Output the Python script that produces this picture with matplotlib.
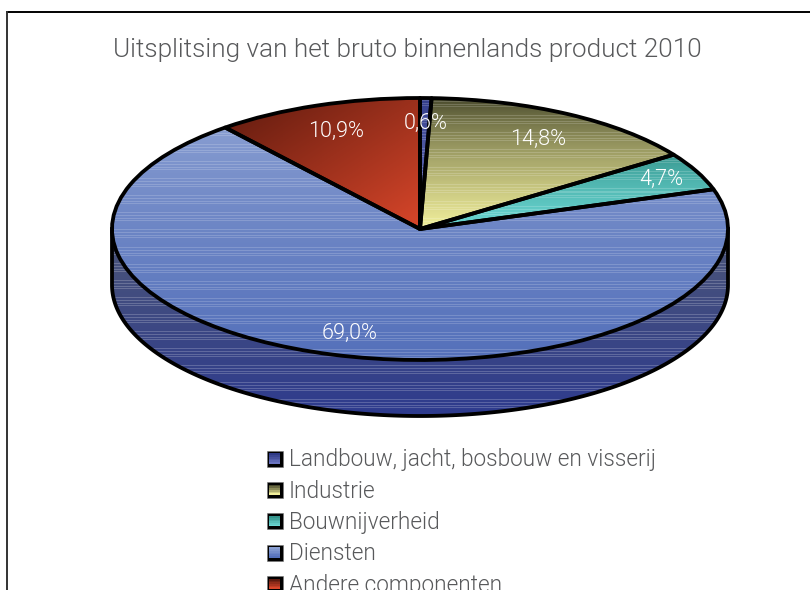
import numpy as np
import matplotlib
matplotlib.use('Agg')
import matplotlib.pyplot as plt
from matplotlib.colors import to_rgb
from matplotlib.legend_handler import HandlerBase
from matplotlib.patches import Patch, Polygon, Rectangle

title = 'Uitsplitsing van het bruto binnenlands product 2010'
categories = ['Landbouw, jacht, bosbouw en visserij', 'Industrie', 'Bouwnijverheid',
              'Diensten', 'Andere componenten']
values = [0.6, 14.8, 4.7, 69.0, 10.9]

# gradient colours per slice, top to bottom
top_colors = ['#2f3a86', '#45462a', '#35948c', '#8a9fd2', '#5e1a0e']
bottom_colors = ['#6a74c0', '#f2f09c', '#6cd8d4', '#5470ba', '#d8462a']
# label centres in pixels
label_px = [(426, 123), (538, 139), (661, 179), (350, 333), (336, 131)]

# pie geometry in pixels
W, H = 810, 590
cx, cy, rx, ry = 420, 229, 308, 131
depth = 56 / ry
line = 3.8 * 72 / 100
grey = '#58595b'

plt.rcParams['font.family'] = ['Roboto', 'DejaVu Sans']
plt.rcParams['font.weight'] = 300


def stripes(n, top, bottom, strength=0.17, gamma=0.75):
    # vertical gradient with thin light lines like the banded original
    t = (np.linspace(0, 1, n) ** gamma)[:, None]
    img = (1 - t) * np.array(to_rgb(top)) + t * np.array(to_rgb(bottom))
    light = np.array([(r * r * r + 5 * r) % 17 in (0, 8) for r in range(n)])
    img[light] = img[light] + (1 - img[light]) * strength
    return img[:, None, :]


def diagonal(top, bottom, n=200):
    yy, xx = np.mgrid[0:1:n * 1j, 0:1:n * 1j]
    t = ((xx + yy) / 2)[..., None]
    return (1 - t) * np.array(to_rgb(top)) + t * np.array(to_rgb(bottom))


def gradient_fill(ax, patch, img):
    box = patch.get_path().transformed(patch.get_patch_transform()).get_extents()
    im = ax.imshow(img, extent=(box.x0, box.x1, box.y0, box.y1), aspect='auto',
                   origin='upper', interpolation='nearest', zorder=0.5)
    im.set_clip_path(patch)
    return im


class GradientSquare(HandlerBase):
    def create_artists(self, legend, orig, xd, yd, width, height, fontsize, trans):
        size = 7.5
        x0 = (width - size) / 2 - xd
        y0 = (height - size) / 2 - yd
        out = [Rectangle((x0 - 2, y0 - 2), size + 4, size + 4, fc='black', ec='#777777',
                         lw=0.4, transform=trans)]
        n = 6
        for k in range(n):
            t = k / (n - 1)
            col = (1 - t) * np.array(to_rgb(orig.top)) + t * np.array(to_rgb(orig.bottom))
            out.append(Rectangle((x0, y0 + size - (k + 1) * size / n), size, size / n,
                                 fc=col, ec='none', transform=trans))
        return out


fig = plt.figure(figsize=(W / 100, H / 100), dpi=100)
ax = fig.add_axes([0, 0, 1, 1])

wedges, texts, autotexts = ax.pie(
    values, startangle=90, counterclock=False, radius=1, colors=['none'] * 5,
    autopct=lambda p: f'{p:.1f}%'.replace('.', ','),
    wedgeprops=dict(edgecolor='black', linewidth=line, joinstyle='round'),
    textprops=dict(color='white', fontsize=15.6))
ax.set_aspect('auto')
ax.set_xlim(-cx / rx, (W - cx) / rx)
ax.set_ylim((cy - H) / ry, cy / ry)
ax.set_axis_off()

for w, top, bottom, name in zip(wedges, top_colors, bottom_colors, categories):
    w.set_zorder(2)
    box = w.get_path().transformed(w.get_patch_transform()).get_extents()
    n = int(box.height * ry)
    if name == 'Andere componenten':
        gradient_fill(ax, w, diagonal(top, bottom))
    else:
        gradient_fill(ax, w, stripes(max(n, 2), top, bottom))

for t, (px, py), in zip(autotexts, label_px):
    t.set_position(((px - cx) / rx, (cy - py) / ry))
    t.set_zorder(3)

# side of the disc, behind the top face
theta = np.linspace(np.pi, 2 * np.pi, 200)
side_xy = np.column_stack([np.cos(theta), np.sin(theta) - depth])
side_xy = np.vstack([[-1, 0], side_xy, [1, 0]])
side = Polygon(side_xy, closed=True, fc='none', ec='black', lw=line, zorder=0.4)
ax.add_patch(side)
side_box = side.get_path().get_extents()
side_im = ax.imshow(stripes(187, '#4c5678', '#2e3b8e', 0.2, 1.0),
                    extent=(-1, 1, side_box.y0, side_box.y1), aspect='auto',
                    interpolation='nearest', zorder=0.3)
side_im.set_clip_path(side)
ax.set_xlim(-cx / rx, (W - cx) / rx)
ax.set_ylim((cy - H) / ry, cy / ry)

ax.text((407.5 - cx) / rx, (cy - 50) / ry, title, ha='center', va='center',
        fontsize=18.85, color=grey)

handles = []
for name, top, bottom in zip(categories, top_colors, bottom_colors):
    h = Patch(label=name)
    h.top, h.bottom = top, bottom
    handles.append(h)
fig.legend(handles=handles, loc='upper left', bbox_to_anchor=(243 / W, 1 - 428 / H),
           frameon=False, fontsize=16.25, labelcolor=grey, labelspacing=0.37,
           handlelength=1.0, handleheight=1.0, handletextpad=0.14, borderpad=0.4,
           handler_map={Patch: GradientSquare()})

# page frame: only top and left fall inside the crop
ax.plot([(7 - cx) / rx, (W - cx) / rx], [(cy - 12) / ry] * 2, color='black', lw=1.4, zorder=5)
ax.plot([(7 - cx) / rx] * 2, [(cy - 12) / ry, (cy - H) / ry], color='#333333', lw=1.4, zorder=5)

fig.savefig('out.png', dpi=100, facecolor='white')
